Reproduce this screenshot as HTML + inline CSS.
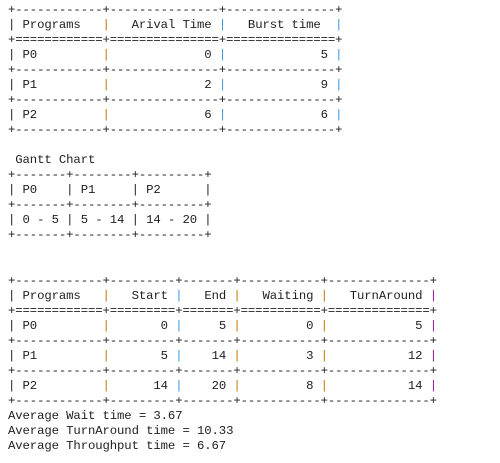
<!DOCTYPE html>
<html><head><meta charset="utf-8"><style>
html,body{margin:0;padding:0;background:#fff;width:500px;height:463px;overflow:hidden}
pre{margin:0;position:absolute;left:8px;top:3px;font-family:"Liberation Mono",monospace;font-size:12.3px;letter-spacing:-0.11px;line-height:15.03px;color:#1e1e1e}
.o{color:#c07a00}.b{color:#3a96dd}.p{color:#9b1a9b}.g{color:#333}
</style></head><body>
<pre><span>+------------+---------------+---------------+
| Programs   <span class="o">|</span>   Arival Time <span class="b">|</span>   Burst time  <span class="b">|</span>
+============+===============+===============+
| P0         <span class="o">|</span>             0 <span class="b">|</span>             5 <span class="b">|</span>
+------------+---------------+---------------+
| P1         <span class="o">|</span>             2 <span class="b">|</span>             9 <span class="b">|</span>
+------------+---------------+---------------+
| P2         <span class="o">|</span>             6 <span class="b">|</span>             6 <span class="b">|</span>
+------------+---------------+---------------+</span>

<span> Gantt Chart
+-------+--------+---------+
| P0    | P1     | P2      |
+-------+--------+---------+
| 0 - 5 | 5 - 14 | 14 - 20 |
+-------+--------+---------+</span>


<span>+------------+---------+-------+-----------+--------------+
| Programs   <span class="o">|</span>   Start <span class="b">|</span>   End <span class="o">|</span>   Waiting <span class="o">|</span>   TurnAround <span class="p">|</span>
+============+=========+=======+===========+==============+
| P0         <span class="o">|</span>       0 <span class="b">|</span>     5 <span class="o">|</span>         0 <span class="o">|</span>            5 <span class="p">|</span>
+------------+---------+-------+-----------+--------------+
| P1         <span class="o">|</span>       5 <span class="b">|</span>    14 <span class="o">|</span>         3 <span class="o">|</span>           12 <span class="p">|</span>
+------------+---------+-------+-----------+--------------+
| P2         <span class="o">|</span>      14 <span class="b">|</span>    20 <span class="o">|</span>         8 <span class="o">|</span>           14 <span class="p">|</span>
+------------+---------+-------+-----------+--------------+</span>
<span>Average Wait time = 3.67
Average TurnAround time = 10.33
Average Throughput time = 6.67</span></pre>
</body></html>
